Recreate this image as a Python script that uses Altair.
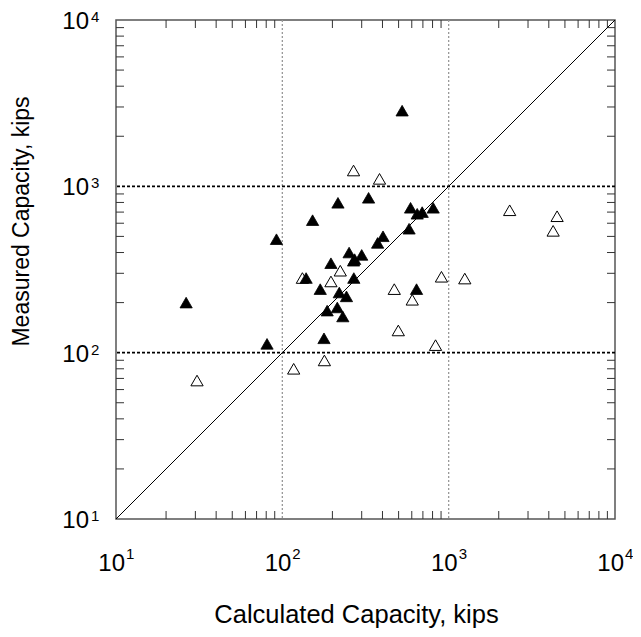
import altair as alt
import pandas as pd

# ---- data ----
filled_x = [26.4, 80.9, 92.2, 152, 216, 330, 525, 590, 647, 693, 807, 578, 403, 374,
            252, 300, 272, 268, 196, 139, 269, 169, 220, 243, 641, 186, 214, 231, 178]
filled_y = [200, 113, 481, 626, 796, 853, 2850, 743, 684, 700, 743, 556, 501, 457,
            400, 387, 365, 357, 345, 281, 281, 241, 230, 218, 241, 179, 187, 165, 122]

open_x = [268, 384, 223, 196, 132, 905, 1250, 471, 604, 498, 834, 2327, 4487, 4248,
          179, 117, 30.7]
open_y = [1245, 1109, 311, 268, 281, 286, 279, 241, 208, 136, 111, 718, 661, 540,
          89.8, 80.0, 68]

decades = [10, 100, 1000, 10000]
exponents = ["1", "2", "3", "4"]
grid_vals = [100, 1000]
minor_vals = [m * d for d in [10, 100, 1000] for m in range(2, 10)]
diag_vals = [10, 10000]

W, H = 499, 499
FONT = "Liberation Sans"

xs = alt.Scale(type="log", domain=[10, 10000], nice=False)
ys = alt.Scale(type="log", domain=[10, 10000], nice=False)

x_axis = alt.Axis(title="Calculated Capacity, kips", labels=False, ticks=False, domain=False,
                  grid=False, titlePadding=83, titleX=240, titleFont=FONT, titleFontSize=25.5,
                  titleFontWeight="normal", titleColor="black")
y_axis = alt.Axis(title="Measured Capacity, kips", labels=False, ticks=False, domain=False,
                  grid=False, titlePadding=83, titleY=201, titleFont=FONT, titleFontSize=23,
                  titleFontWeight="normal", titleColor="black")

pts_f = pd.DataFrame({"x": filled_x, "y": filled_y})
pts_o = pd.DataFrame({"x": open_x, "y": open_y})
dec_df = pd.DataFrame({"v": decades, "base": ["10"] * 4, "exp": exponents})
grid_df = pd.DataFrame({"v": grid_vals})
minor_df = pd.DataFrame({"v": minor_vals})
diag_df = pd.DataFrame({"v": diag_vals})

X = lambda f: alt.X(f"{f}:Q", scale=xs, axis=x_axis)
Y = lambda f: alt.Y(f"{f}:Q", scale=ys, axis=y_axis)

vgrid = alt.Chart(grid_df).mark_rule(color="#999999", strokeDash=[2, 2], strokeWidth=1.3).encode(x=X("v"))
hgrid = alt.Chart(grid_df).mark_rule(color="black", strokeDash=[3, 2], strokeWidth=1.8).encode(y=Y("v"))

tick_color = "#333333"
t_bottom = alt.Chart(minor_df).mark_rule(color=tick_color, strokeWidth=1).encode(
    x=X("v"), y=alt.value(H), y2=alt.value(H - 8))
t_top = alt.Chart(minor_df).mark_rule(color=tick_color, strokeWidth=1).encode(
    x=X("v"), y=alt.value(0), y2=alt.value(8))
t_left = alt.Chart(minor_df).mark_rule(color=tick_color, strokeWidth=1).encode(
    y=Y("v"), x=alt.value(0), x2=alt.value(8))
t_right = alt.Chart(minor_df).mark_rule(color=tick_color, strokeWidth=1).encode(
    y=Y("v"), x=alt.value(W), x2=alt.value(W - 8))

diag = alt.Chart(diag_df).mark_line(color="black", strokeWidth=1).encode(x=X("v"), y=Y("v"))

open_pts = alt.Chart(pts_o).mark_point(shape="triangle-up", size=150, filled=True, fill="white",
                                       stroke="black", strokeWidth=1, opacity=1).encode(x=X("x"), y=Y("y"))
filled_pts = alt.Chart(pts_f).mark_point(shape="triangle-up", size=150, filled=True, fill="black",
                                         stroke="black", strokeWidth=0.8, opacity=1).encode(x=X("x"), y=Y("y"))

xlab_base = alt.Chart(dec_df).mark_text(font=FONT, fontSize=24, align="right", baseline="alphabetic",
                                        dx=9, color="black").encode(
    x=X("v"), y=alt.value(H + 52), text="base:N")
xlab_exp = alt.Chart(dec_df).mark_text(font=FONT, fontSize=15, align="left", baseline="alphabetic",
                                       dx=10, color="black").encode(
    x=X("v"), y=alt.value(H + 40), text="exp:N")
ylab_base = alt.Chart(dec_df).mark_text(font=FONT, fontSize=24, align="right", baseline="alphabetic",
                                        dy=9, color="black").encode(
    y=Y("v"), x=alt.value(-27), text="base:N")
ylab_exp = alt.Chart(dec_df).mark_text(font=FONT, fontSize=15, align="left", baseline="alphabetic",
                                       dy=2, color="black").encode(
    y=Y("v"), x=alt.value(-25), text="exp:N")

chart = alt.layer(
    vgrid, hgrid, t_bottom, t_top, t_left, t_right, diag, open_pts, filled_pts,
    xlab_base, xlab_exp, ylab_base, ylab_exp
).properties(
    width=W, height=H,
    autosize=alt.AutoSizeParams(type="none"),
    padding={"left": 108, "top": 12, "right": 18, "bottom": 109},
    background="white",
).configure_view(stroke="#555555", strokeWidth=1.5)

chart.save("out.html", embed_options={"renderer": "svg", "actions": False})
